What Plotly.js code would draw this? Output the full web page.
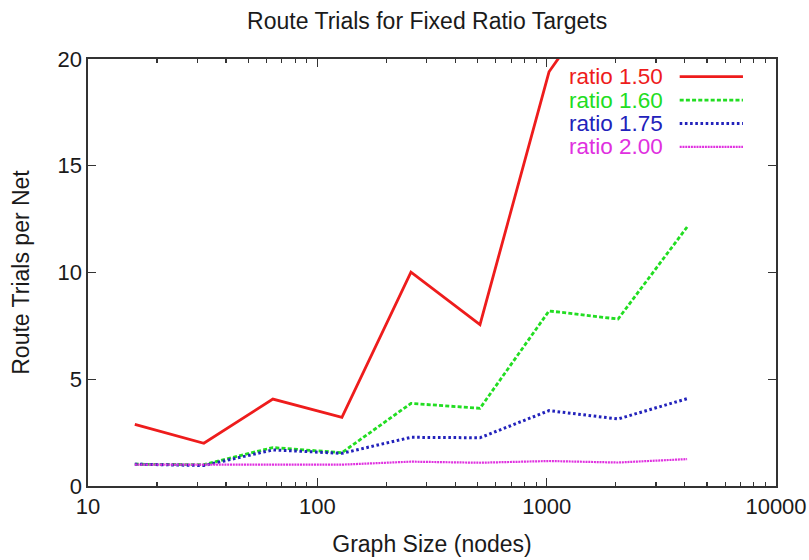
<!DOCTYPE html>
<html>
<head>
<meta charset="utf-8">
<script src="https://cdn.plot.ly/plotly-3.0.1.min.js"></script>
<style>html,body{margin:0;padding:0;background:#fff;}#chart{width:809px;height:560px;}</style>
</head>
<body>
<div id="chart"></div>
<script>
// Data
const graphSizes = [16, 32, 64, 128, 256, 512, 1024, 2048, 4096];
const ratio150 = [2.89, 2.0, 4.07, 3.22, 10.02, 7.56, 19.4, 24.0, null];
const ratio160 = [1.02, 1.0, 1.8, 1.56, 3.87, 3.64, 8.2, 7.82, 12.13];
const ratio175 = [1.02, 0.96, 1.69, 1.53, 2.28, 2.26, 3.53, 3.14, 4.09];
const ratio200 = [1.0, 1.0, 1.02, 1.0, 1.14, 1.09, 1.17, 1.1, 1.26];
const seriesNames = ["ratio 1.50", "ratio 1.60", "ratio 1.75", "ratio 2.00"];
const xTickVals = [10, 100, 1000, 10000];
const xTickText = ["10", "100", "1000", "10000"];
const yTickVals = [0, 5, 10, 15, 20];

// minor log ticks 2..9 in each decade
const xMinorVals = [];
[10, 100, 1000].forEach(d => { for (let k = 2; k <= 9; k++) xMinorVals.push(k * d); });

const colors = ["#ee1c1c", "#22dd22", "#2222bb", "#e030e0"];
const dashes = ["solid", "4px,2.2px", "2.6px,2.6px", "2px,0.8px"];
const widths = [2.8, 2.8, 3.0, 2.2];
const seriesData = [ratio150, ratio160, ratio175, ratio200];

const traces = seriesData.map((ys, i) => ({
  x: graphSizes, y: ys, type: "scatter", mode: "lines", name: seriesNames[i],
  line: {color: colors[i], width: widths[i], dash: dashes[i]},
  connectgaps: false, showlegend: false, cliponaxis: true
}));

const fontFam = "Liberation Sans, Arial, sans-serif";
const annotations = [];
const shapes = [];
const legTop = 0.9586, legStep = 0.0548;
seriesNames.forEach((n, i) => {
  const yy = legTop - i * legStep;
  annotations.push({
    xref: "paper", yref: "paper", x: 0.8375, y: yy, xanchor: "right", yanchor: "middle",
    text: n, showarrow: false, font: {family: fontFam, size: 22.5, color: colors[i]},
    height: 21, borderpad: 0
  });
  shapes.push({
    type: "line", xref: "paper", yref: "paper", x0: 0.860, x1: 0.952, y0: yy, y1: yy,
    line: {color: colors[i], width: widths[i], dash: dashes[i]}
  });
});

const layout = {
  width: 809, height: 560,
  margin: {l: 88, r: 33, t: 59, b: 74, pad: 0},
  paper_bgcolor: "#fff", plot_bgcolor: "#fff",
  font: {family: fontFam, size: 22, color: "#1a1a1a"},
  title: {text: "Route Trials for Fixed Ratio Targets", x: 0.528, xanchor: "center", y: 0.963, yanchor: "middle",
          font: {family: fontFam, size: 23, color: "#1a1a1a"}},
  xaxis: {
    type: "log", range: [1, 4], tickvals: xTickVals, ticktext: xTickText,
    ticks: "inside", ticklen: 8, tickwidth: 1.4, tickcolor: "#333",
    showline: true, linecolor: "#333", linewidth: 1.6, mirror: "allticks",
    showgrid: false, zeroline: false,
    minor: {tickmode: "array", tickvals: xMinorVals, ticks: "inside", ticklen: 4, tickwidth: 1.2, tickcolor: "#333", showgrid: false},
    tickfont: {family: fontFam, size: 22, color: "#1a1a1a"},
    title: {text: "Graph Size (nodes)", standoff: 18, font: {family: fontFam, size: 23, color: "#1a1a1a"}}
  },
  yaxis: {
    range: [0, 20], tickvals: yTickVals,
    ticks: "inside", ticklen: 8, tickwidth: 1.4, tickcolor: "#333",
    showline: true, linecolor: "#333", linewidth: 1.6, mirror: "allticks",
    showgrid: false, zeroline: false,
    tickfont: {family: fontFam, size: 22, color: "#1a1a1a"},
    title: {text: "Route Trials per Net", standoff: 21, font: {family: fontFam, size: 23, color: "#1a1a1a"}}
  },
  annotations: annotations,
  shapes: shapes,
  showlegend: false
};

Plotly.newPlot("chart", traces, layout, {displayModeBar: false, staticPlot: true});
</script>
</body>
</html>
